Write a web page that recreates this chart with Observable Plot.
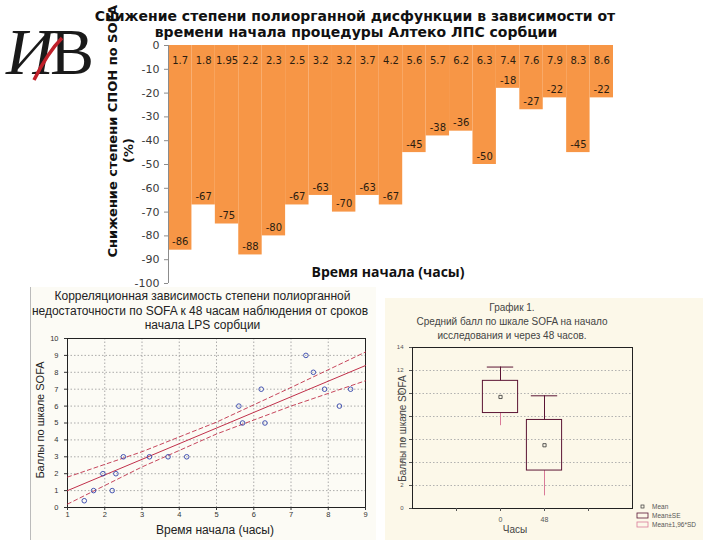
<!DOCTYPE html>
<html><head><meta charset="utf-8">
<script src="https://cdn.jsdelivr.net/npm/d3@7"></script>
<script src="https://cdn.jsdelivr.net/npm/@observablehq/plot@0.6"></script>
<style>
body{margin:0;background:#fff;}
#root{position:relative;width:720px;height:540px;overflow:hidden;background:#fff;font-family:"DejaVu Sans",sans-serif;}
.abs{position:absolute;white-space:nowrap;}
</style>
</head><body>
<div id="root"></div>
<script>
// ---- main bar chart data ----
const startTimes = ["1.7","1.8","1.95","2.2","2.3","2.5","3.2","3.2","3.7","4.2","5.6","5.7","6.2","6.3","7.4","7.6","7.9","8.3","8.6"];
const reduction = [-86,-67,-75,-88,-80,-67,-63,-70,-63,-67,-45,-38,-36,-50,-18,-27,-22,-45,-22];
const yTicksMain = [0,-10,-20,-30,-40,-50,-60,-70,-80,-90,-100];

// ---- scatter data ----
const scatX = [1.45,1.7,2.2,1.95,2.3,2.5,3.2,3.7,4.2,5.6,5.7,6.2,6.3,7.4,7.6,7.9,8.3,8.6];
const scatY = [0.4,1,1,2,2,3,3,3,3,6,5,7,5,9,8,7,6,7];
const fitX = [1,9];
const fitY = [1.0,8.4];
const bandX = [1,3,5,7,9];
const bandUp = [1.8,3.3,5.05,7.1,9.2];
const bandLo = [0.2,2.4,4.35,6.0,7.5];
const scatXTicks = [1,2,3,4,5,6,7,8,9];
const scatYTicks = [0,1,2,3,4,5,6,7,8,9,10];

// ---- box plot data ----
const groups = ["0","48"];
const groupPos = [2,3];
const means = [9.7,5.5];
const seLow = [8.3,3.3];
const seHigh = [11.1,7.7];
const sdLow = [7.2,1.1];
const sdHigh = [12.3,9.8];
const boxYTicks = [0,2,4,6,8,10,12,14];
const boxXTicks = [1,2,3,4];

const root = document.getElementById("root");
function addText(txt, css){const d=document.createElement("div");d.className="abs";d.textContent=txt;Object.assign(d.style,css);root.appendChild(d);return d;}
const ns="http://www.w3.org/2000/svg";

// ===== SCATTER PANEL =====
const sp=document.createElement("div");
Object.assign(sp.style,{position:"absolute",left:"30px",top:"287px",width:"345px",height:"253px",background:"#fcfbf5",borderLeft:"1px solid #bbb"});
root.appendChild(sp);
const scatData = scatX.map((x,i)=>({x, y:scatY[i]}));
const fitData = fitX.map((x,i)=>({x, y:fitY[i]}));
const bandData = bandX.map((x,i)=>({x, up:bandUp[i], lo:bandLo[i]}));
const scat = Plot.plot({
  width:345, height:248, marginLeft:36, marginRight:11, marginTop:51, marginBottom:28,
  style:{background:"transparent", fontFamily:"Liberation Sans, sans-serif"},
  x:{domain:[1,9], axis:null},
  y:{domain:[0,10], axis:null},
  marks:[
    Plot.gridX(scatXTicks,{stroke:"#999", strokeDasharray:"1.5,2", strokeOpacity:0.8}),
    Plot.gridY(scatYTicks,{stroke:"#999", strokeDasharray:"1.5,2", strokeOpacity:0.8}),
    Plot.frame({stroke:"#222"}),
    Plot.axisX(scatXTicks,{tickSize:3, tickPadding:1, fontSize:7.5, color:"#333", label:null}),
    Plot.axisY(scatYTicks,{tickSize:3, fontSize:7.5, color:"#333", label:null}),
    Plot.line(bandData,{x:"x", y:"up", stroke:"#c0304a", strokeDasharray:"4,3", strokeWidth:0.9}),
    Plot.line(bandData,{x:"x", y:"lo", stroke:"#c0304a", strokeDasharray:"4,3", strokeWidth:0.9}),
    Plot.line(fitData,{x:"x", y:"y", stroke:"#c0304a", strokeWidth:1}),
    Plot.dot(scatData,{x:"x", y:"y", r:2.3, stroke:"#3344aa", strokeWidth:0.9, fill:"none"})
  ]
});
scat.style.position="absolute";scat.style.left="0px";scat.style.top="0px";
sp.appendChild(scat);
addText("Корреляционная зависимость степени полиорганной",{left:"30px",width:"345px",textAlign:"center",top:"289px",fontSize:"12px",fontFamily:"Liberation Sans",color:"#222"});
addText("недостаточности по SOFA к 48 часам наблюдения от сроков",{left:"30px",width:"340px",textAlign:"center",top:"304px",fontSize:"12px",fontFamily:"Liberation Sans",color:"#222"});
addText("начала LPS сорбции",{left:"30px",width:"345px",textAlign:"center",top:"318px",fontSize:"12px",fontFamily:"Liberation Sans",color:"#222"});
addText("Баллы по шкале SOFA",{left:"-25px",top:"414px",width:"130px",textAlign:"center",fontSize:"11px",fontFamily:"Liberation Sans",color:"#222",transform:"rotate(-90deg)"});
addText("Время начала (часы)",{left:"66px",width:"298px",textAlign:"center",top:"523px",fontSize:"12px",lineHeight:"14px",fontFamily:"Liberation Sans",color:"#222"});

// ===== BOX PANEL =====
const bp=document.createElement("div");
Object.assign(bp.style,{position:"absolute",left:"385px",top:"298px",width:"318px",height:"242px",background:"#fcf8e9"});
root.appendChild(bp);
const boxData = groups.map((g,i)=>({g, p:groupPos[i], m:means[i], seL:seLow[i], seH:seHigh[i], sdL:sdLow[i], sdH:sdHigh[i]}));
const box = Plot.plot({
  width:318, height:237, marginLeft:27, marginRight:71, marginTop:49, marginBottom:27,
  style:{background:"transparent", fontFamily:"Liberation Sans, sans-serif"},
  x:{domain:[0,5], axis:null},
  y:{domain:[0,14], axis:null},
  marks:[
    Plot.gridY(boxYTicks.slice(1,-1),{stroke:"#aaa", strokeDasharray:"1.5,2", strokeOpacity:0.9}),
    Plot.frame({stroke:"#222"}),
    Plot.axisY(boxYTicks,{tickSize:3, fontSize:6, color:"#555", label:null}),
    Plot.axisX(boxXTicks,{tickSize:3, fontSize:7, color:"#555", label:null, tickFormat:d=>{const k=groupPos.indexOf(d);return k>=0?groups[k]:"";}}),
    Plot.ruleX(boxData,{x:"p", y1:"seH", y2:"sdH", stroke:"#5b1434"}),
    Plot.ruleX(boxData,{x:"p", y1:"seL", y2:"sdL", stroke:"#d97a98"}),
    Plot.ruleY(boxData,{y:"sdH", x1:d=>d.p-0.3, x2:d=>d.p+0.3, stroke:"#5b1434"}),
    Plot.rect(boxData,{x1:d=>d.p-0.4, x2:d=>d.p+0.4, y1:"seL", y2:"seH", stroke:"#5b1434", fill:"none"}),
    Plot.dot(boxData,{x:"p", y:"m", symbol:"square", r:1.8, stroke:"#333", fill:"none", strokeWidth:0.8})
  ]
});
box.style.position="absolute";box.style.left="0px";box.style.top="0px";
bp.appendChild(box);
const bStyle={fontFamily:"Liberation Sans",color:"#444",fontSize:"10px"};
addText("График 1.",Object.assign({left:"412px",width:"200px",textAlign:"center",top:"302px"},bStyle));
addText("Средний балл по шкале SOFA на начало",Object.assign({left:"412px",width:"200px",textAlign:"center",top:"316px"},bStyle));
addText("исследования и через 48 часов.",Object.assign({left:"412px",width:"200px",textAlign:"center",top:"330px"},bStyle));
addText("Баллы по шкале SOFA",Object.assign({left:"347px",top:"423px",width:"110px",textAlign:"center",transform:"rotate(-90deg)"},bStyle));
addText("Часы",Object.assign({left:"495px",width:"40px",textAlign:"center",top:"524px"},bStyle));
const lg=document.createElementNS(ns,"svg");
lg.setAttribute("width","85");lg.setAttribute("height","32");
lg.style.position="absolute";lg.style.left="635px";lg.style.top="502px";
lg.innerHTML='<rect x="6" y="3" width="3" height="3" fill="none" stroke="#333" stroke-width="0.7"/>'+
 '<text x="17" y="7" font-size="6.5" font-family="Liberation Sans" fill="#555">Mean</text>'+
 '<rect x="2" y="11" width="11" height="5" fill="none" stroke="#5b1434" stroke-width="0.8"/>'+
 '<text x="17" y="16" font-size="6.5" font-family="Liberation Sans" fill="#555">Mean±SE</text>'+
 '<rect x="2" y="20" width="11" height="5" fill="none" stroke="#d97a98" stroke-width="0.8"/>'+
 '<text x="17" y="25" font-size="6.5" font-family="Liberation Sans" fill="#555">Mean±1,96*SD</text>';
root.appendChild(lg);

// ===== MAIN CHART (on top) =====
const barData = startTimes.map((c,i)=>({i, c, v: reduction[i]}));
const main = Plot.plot({
  width:720, height:292, marginLeft:168, marginRight:107, marginTop:45, marginBottom:9,
  style:{background:"transparent", fontFamily:"DejaVu Sans, sans-serif"},
  x:{domain:[0,startTimes.length], axis:null},
  y:{domain:[-100,0], axis:null},
  marks:[
    Plot.rectY(barData,{x1:"i", x2:d=>d.i+1, y1:0, y2:"v", fill:"#F79646"}),
    Plot.ruleX([0],{stroke:"#8c8c8c"}),
    Plot.axisY({ticks:yTicksMain, tickFormat:d=>String(d), tickSize:4, fontSize:11, color:"#3a3a3a", stroke:"#8c8c8c", label:null}),
    Plot.text(barData,{x:d=>d.i+0.5, y:0, text:"c", dy:15, fontSize:10, fill:"#2b1d10"}),
    Plot.text(barData,{x:d=>d.i+0.5, y:"v", text:d=>String(d.v), dy:-8, fontSize:10, fill:"#2b1d10"}),
    Plot.text(["Время начала (часы)"],{frameAnchor:"bottom", dy:-11, dx:-3, lineAnchor:"middle", fontSize:14, fontWeight:"bold", fontFamily:"Open Sans, sans-serif", fill:"#111"})
  ]
});
main.style.position="absolute";main.style.left="0px";main.style.top="0px";main.style.pointerEvents="none";
root.appendChild(main);

addText("Снижение степени полиорганной дисфункции в зависимости от",{left:"0px",width:"710px",textAlign:"center",top:"9px",fontSize:"14px",lineHeight:"14px",fontWeight:"bold",color:"#111"});
addText("времени начала процедуры Алтеко ЛПС сорбции",{left:"0px",width:"712px",textAlign:"center",top:"25px",fontSize:"14px",lineHeight:"14px",fontWeight:"bold",color:"#111"});
addText("Снижение степени СПОН по SOFA",{left:"2px",top:"140px",width:"220px",textAlign:"center",fontSize:"13px",fontWeight:"bold",color:"#111",transform:"rotate(-90deg)"});
addText("(%)",{left:"18px",top:"143px",width:"220px",textAlign:"center",fontSize:"13px",fontWeight:"bold",color:"#111",transform:"rotate(-90deg)"});

// logo
const logo=document.createElementNS(ns,"svg");
logo.setAttribute("width","100");logo.setAttribute("height","80");
logo.style.position="absolute";logo.style.left="4px";logo.style.top="8px";
logo.innerHTML='<text x="2" y="66" font-family="Liberation Serif" font-style="italic" font-size="66" fill="#1a1a1a">И</text>'+
 '<text x="46" y="66" font-family="Liberation Serif" font-size="66" fill="#1a1a1a">В</text>'+
 '<path d="M30 72 C38 56 46 42 58 30" stroke="#c0202a" stroke-width="3.5" fill="none"/>';
root.appendChild(logo);
</script>
</body></html>
